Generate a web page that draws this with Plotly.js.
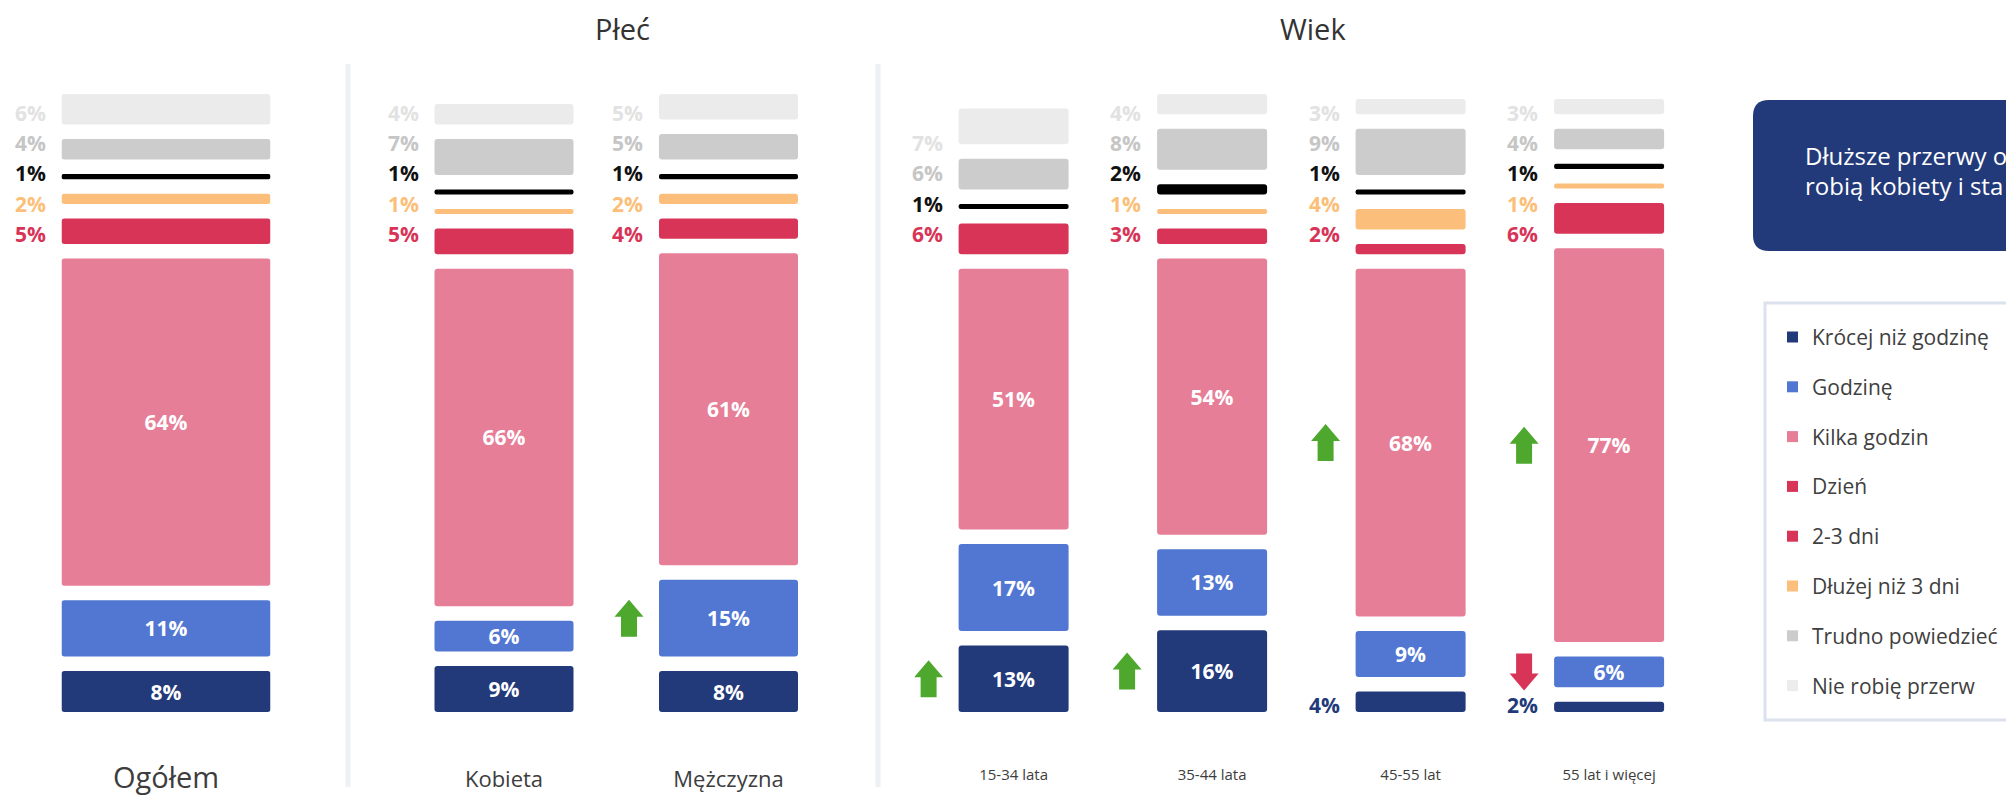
<!DOCTYPE html>
<html><head><meta charset="utf-8">
<script src="https://cdn.plot.ly/plotly-3.0.1.min.js"></script>
<style>html,body{margin:0;padding:0;background:#fff;}#chart{width:2006px;height:799px;}</style>
</head><body><div id="chart"></div>
<script>
// ---- data ----
const columns = ['Ogółem','Kobieta','Mężczyzna','15-34 lata','35-44 lata','45-55 lat','55 lat i więcej'];
const groupOgolem = ['Ogółem'];
const groupPlec = ['Kobieta','Mężczyzna'];
const groupWiek = ['15-34 lata','35-44 lata','45-55 lat','55 lat i więcej'];
const groupTitles = ['Płeć','Wiek'];
const seriesNames = ['Krócej niż godzinę','Godzinę','Kilka godzin','Dzień','2-3 dni','Dłużej niż 3 dni','Trudno powiedzieć','Nie robię przerw'];
// values per series, in column order
const krocej   = [8, 9, 8, 13, 16, 4, 2];
const godzine  = [11, 6, 15, 17, 13, 9, 6];
const kilka    = [64, 66, 61, 51, 54, 68, 77];
const dzien    = [5, 5, 4, 6, 3, 2, 6];
const dni23    = [2, 1, 2, 0, 1, 4, 1];
const dluzej   = [1, 1, 1, 1, 2, 1, 1];
const trudno   = [4, 7, 5, 6, 8, 9, 4];
const nieRobie = [6, 4, 5, 7, 4, 3, 3];
const seriesValues = [krocej, godzine, kilka, dzien, dni23, dluzej, trudno, nieRobie];
// significance arrows: column, series index, direction
const arrows = [
  ['Mężczyzna', 1, 'up'],
  ['15-34 lata', 0, 'up'],
  ['35-44 lata', 0, 'up'],
  ['45-55 lat', 2, 'up'],
  ['55 lat i więcej', 2, 'up'],
  ['55 lat i więcej', 1, 'down']
];
const calloutLines = ['Dłuższe przerwy o', 'robią kobiety i sta'];

// ---- styles ----
const barColors = ['#22397a','#5277d2','#e67e98','#d83458','#fcbf7b','#000000','#cccccc','#ebebeb'];
const labelColors = ['#22397a','#5277d2','#e67e98','#d83458','#fbbf7a','#111111','#c6c6c6','#e2e2e2'];
const legendColors = ['#22397a','#5277d2','#e67e98','#d83458','#d83458','#fcbf7b','#cccccc','#ececec'];
const FONT = 'Open Sans, Noto Sans, sans-serif';
const W = 2006, H = 799;
const Y0PX = 712, PXU = 5.115;           // pixel of zero, px per percent
const GAP = 14.5 / PXU;                   // white gap between segments
const ROW0 = (Y0PX - 234) / PXU, ROWSTEP = 30.3 / PXU;
const BOTTOMROW = (Y0PX - 705) / PXU;

const axesCfg = [
  {id:'x',  cats: groupOgolem, first:166,    unit:209,   barPx:209, fs:29, col0:0, pos:0.051},
  {id:'x2', cats: groupPlec,   first:504,    unit:224.5, barPx:139, fs:22, col0:1, pos:0.044},
  {id:'x3', cats: groupWiek,   first:1013.6, unit:198.5, barPx:110, fs:15, col0:3, pos:0.044}
];

// bases with gaps
const bases = seriesValues.map(() => []);
columns.forEach((c, j) => {
  let cum = 0;
  seriesValues.forEach((vals, s) => {
    bases[s][j] = cum;
    if (vals[j] > 0) cum += vals[j] + GAP;
  });
});

const traces = [];
const annotations = [];
const shapes = [];
const layout = {
  width: W, height: H,
  margin: {l:0, r:0, t:0, b:0},
  paper_bgcolor: '#fff', plot_bgcolor: '#fff',
  barmode: 'overlay', showlegend: false,
  uniformtext: {mode: 'show', minsize: 21},
  yaxis: {range: [-(H - Y0PX) / PXU, Y0PX / PXU], domain: [0, 1], visible: false, showgrid: false, zeroline: false, fixedrange: true},
  annotations: annotations, shapes: shapes,
  font: {family: FONT}
};

axesCfg.forEach(cfg => {
  const n = cfg.cats.length;
  const w = cfg.barPx / cfg.unit;
  const key = cfg.id === 'x' ? 'xaxis' : 'xaxis' + cfg.id.slice(1);
  layout[key] = {
    type: 'category', categoryorder: 'array', categoryarray: cfg.cats,
    domain: [(cfg.first - cfg.unit / 2) / W, (cfg.first + (n - 0.5) * cfg.unit) / W],
    range: [-0.5, n - 0.5], anchor: 'free', position: cfg.pos,
    showgrid: false, zeroline: false, showline: false, ticks: '',
    tickfont: {family: FONT, size: cfg.fs, color: '#3d3d3d'}, fixedrange: true
  };
  const cols = cfg.cats.map((c, k) => cfg.col0 + k);
  seriesValues.forEach((vals, s) => {
    const ys = cols.map(j => vals[j]);
    traces.push({
      type: 'bar', name: seriesNames[s], x: cfg.cats, y: ys,
      base: cols.map(j => bases[s][j]),
      xaxis: cfg.id, yaxis: 'y', width: w,
      marker: {color: barColors[s], cornerradius: 3, line: {width: 0}},
      text: ys.map(v => (s <= 2 && v >= 5) ? v + '%' : ''),
      textposition: 'inside', insidetextanchor: 'middle', textangle: 0,
      insidetextfont: {family: FONT, size: 21, color: '#ffffff', weight: 700},
      hoverinfo: 'skip'
    });
  });
  // outside labels
  cols.forEach((j, k) => {
    let row = 0;
    for (let s = 3; s < seriesValues.length; s++) {
      const v = seriesValues[s][j];
      if (v > 0) {
        annotations.push({xref: cfg.id, yref: 'y', x: k - w / 2, y: ROW0 + row * ROWSTEP,
          xanchor: 'right', yanchor: 'middle', xshift: -14, showarrow: false,
          text: v + '%', font: {family: FONT, size: 21, color: labelColors[s], weight: 700}});
        row++;
      }
    }
    if (krocej[j] < 5) {
      annotations.push({xref: cfg.id, yref: 'y', x: k - w / 2, y: BOTTOMROW,
        xanchor: 'right', yanchor: 'middle', xshift: -14, showarrow: false,
        text: krocej[j] + '%', font: {family: FONT, size: 21, color: labelColors[0], weight: 700}});
    }
  });
  // arrows
  arrows.forEach(([col, s, dir]) => {
    const k = cfg.cats.indexOf(col);
    if (k < 0) return;
    const j = cfg.col0 + k;
    const yc = bases[s][j] + seriesValues[s][j] / 2;
    const cx = -30, d = dir === 'up' ? 1 : -1;
    const p = [[0, 18.5], [14.5, 1.5], [8, 1.5], [8, -18.5], [-8, -18.5], [-8, 1.5], [-14.5, 1.5]]
      .map(([a, b]) => (cx + a) + ',' + (d * b));
    shapes.push({type: 'path', xref: cfg.id, yref: 'y', xsizemode: 'pixel', ysizemode: 'pixel',
      xanchor: k - w / 2, yanchor: yc, path: 'M' + p.join(' L') + ' Z',
      fillcolor: dir === 'up' ? '#4fa82e' : '#d83458', line: {width: 0}});
  });
});

// group titles
[[groupTitles[0], 622], [groupTitles[1], 1313]].forEach(([t, xp]) => {
  annotations.push({xref: 'paper', yref: 'paper', x: xp / W, y: 1 - 28 / H, xanchor: 'center', yanchor: 'middle',
    showarrow: false, text: t, font: {family: FONT, size: 29, color: '#333333'}});
});
// separators
[348, 878].forEach(xp => {
  shapes.push({type: 'line', xref: 'paper', yref: 'paper', x0: xp / W, x1: xp / W, y0: 1 - 64 / H, y1: 1 - 787 / H,
    line: {color: '#edf0f5', width: 5}});
});
// callout box
(function () {
  const x0 = 1753, x1 = 2040, y0 = 100, y1 = 251, r = 16;
  const X = v => (v / W).toFixed(5), Y = v => (1 - v / H).toFixed(5);
  const path = `M${X(x0 + r)},${Y(y0)} L${X(x1)},${Y(y0)} L${X(x1)},${Y(y1)} L${X(x0 + r)},${Y(y1)} ` +
    `Q${X(x0)},${Y(y1)} ${X(x0)},${Y(y1 - r)} L${X(x0)},${Y(y0 + r)} Q${X(x0)},${Y(y0)} ${X(x0 + r)},${Y(y0)} Z`;
  shapes.push({type: 'path', xref: 'paper', yref: 'paper', path: path, fillcolor: '#233a7a', line: {width: 0}});
  calloutLines.forEach((ln, i) => {
    annotations.push({xref: 'paper', yref: 'paper', x: 1803 / W, y: 1 - (156 + i * 30) / H, xanchor: 'left', yanchor: 'middle', align: 'left',
      showarrow: false, text: ln, font: {family: FONT, size: 24, color: '#ffffff'}});
  });
})();
// legend
shapes.push({type: 'rect', xref: 'paper', yref: 'paper', x0: 1765 / W, x1: 2040 / W, y0: 1 - 720 / H, y1: 1 - 303 / H,
  fillcolor: '#ffffff', line: {color: '#dce2ed', width: 3}});
seriesNames.forEach((nm, i) => {
  const yc = 337 + i * 49.8;
  shapes.push({type: 'rect', xref: 'paper', yref: 'paper', x0: 1787 / W, x1: 1798 / W, y0: 1 - (yc + 5.5) / H, y1: 1 - (yc - 5.5) / H,
    fillcolor: legendColors[i], line: {width: 0}});
  annotations.push({xref: 'paper', yref: 'paper', x: 1810 / W, y: 1 - yc / H, xanchor: 'left', yanchor: 'middle',
    showarrow: false, text: nm, font: {family: FONT, size: 21, color: '#404040'}});
});

Plotly.newPlot('chart', traces, layout, {displayModeBar: false, staticPlot: true});
</script></body></html>
